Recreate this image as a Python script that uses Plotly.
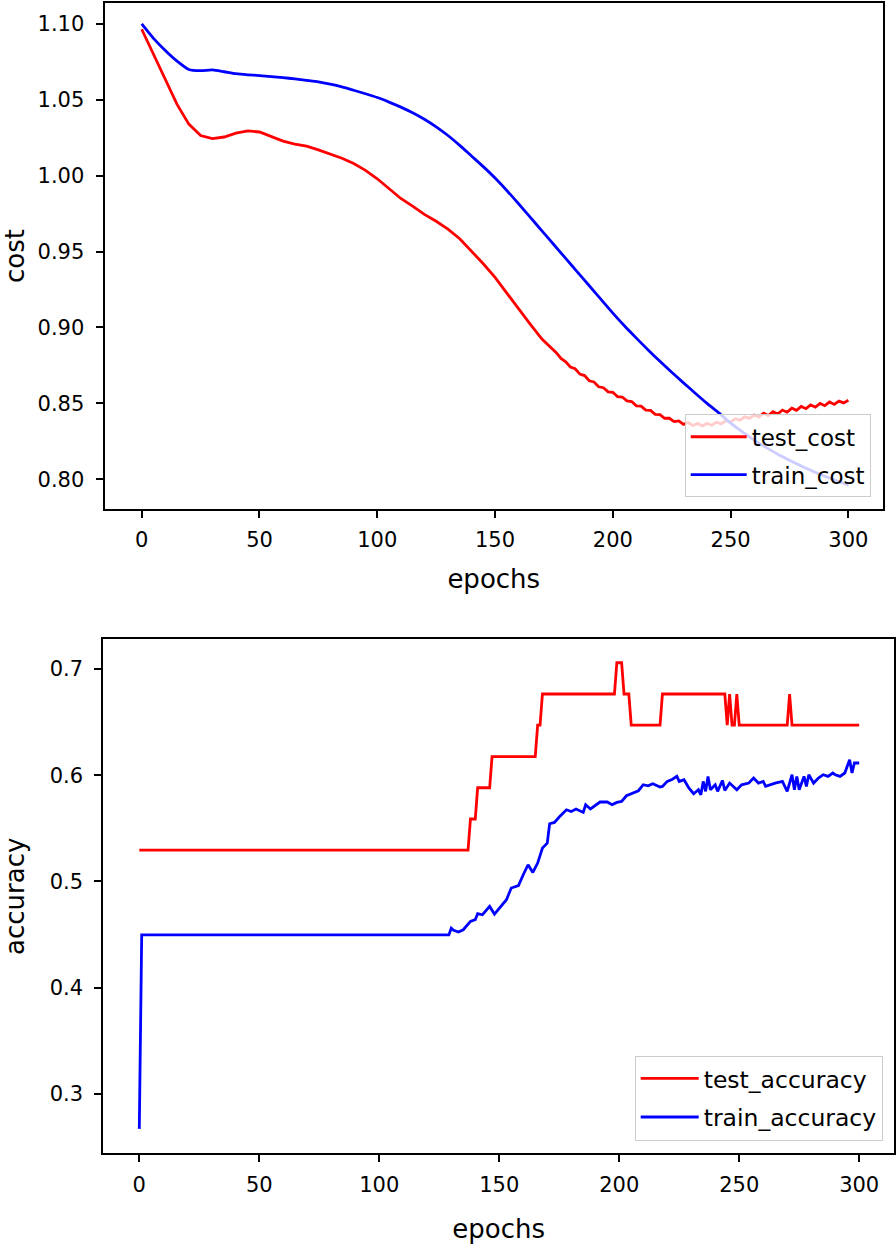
import plotly.graph_objects as go

# ---------------- data: cost ----------------
cost_epochs_a = [0, 5, 10, 15, 20, 25, 30, 35, 40, 45, 50, 55, 60, 65, 70, 75, 80, 85, 90, 95,
                 100, 105, 110, 115, 120, 125, 130, 135, 140, 145, 150, 155, 160, 165, 170]
test_cost_a = [1.0965, 1.0800, 1.0630, 1.0470, 1.0340, 1.0265, 1.0245, 1.0255, 1.0280, 1.0295,
               1.0288, 1.0260, 1.0228, 1.0208, 1.0195, 1.0170, 1.0143, 1.0115, 1.0080, 1.0035,
               0.9980, 0.9915, 0.9850, 0.9800, 0.9745, 0.9700, 0.9648, 0.9585, 0.9505, 0.9420,
               0.9330, 0.9225, 0.9120, 0.9020, 0.8922]
cost_epochs_b = list(range(172, 301, 2))
test_cost_b = [0.8893, 0.8860, 0.8834, 0.8796, 0.8774, 0.8740, 0.8728, 0.8693, 0.8683, 0.8649,
               0.8641, 0.8609, 0.8603, 0.8576, 0.8573, 0.8545, 0.8542, 0.8516, 0.8512, 0.8484,
               0.8482, 0.8456, 0.8454, 0.8428, 0.8426, 0.8402, 0.8402, 0.8380, 0.8384, 0.8362,
               0.8374, 0.8354, 0.8368, 0.8352, 0.8368, 0.8356, 0.8376, 0.8365, 0.8387, 0.8377,
               0.8399, 0.8389, 0.8411, 0.8401, 0.8423, 0.8410, 0.8435, 0.8420, 0.8445, 0.8430,
               0.8456, 0.8442, 0.8468, 0.8454, 0.8480, 0.8465, 0.8490, 0.8475, 0.8500, 0.8485,
               0.8509, 0.8493, 0.8515, 0.8503, 0.8520]

train_cost_epochs = list(range(0, 301, 5))
train_cost = [1.1000, 1.0905, 1.0825, 1.0755, 1.0700, 1.0692, 1.0697, 1.0685, 1.0672, 1.0665,
              1.0660, 1.0653, 1.0646, 1.0638, 1.0628, 1.0618, 1.0603, 1.0585, 1.0563, 1.0540,
              1.0515, 1.0485, 1.0452, 1.0415, 1.0372, 1.0322, 1.0265, 1.0200, 1.0130, 1.0060,
              0.9985, 0.9903, 0.9815, 0.9725, 0.9635, 0.9545, 0.9455, 0.9365, 0.9275, 0.9185,
              0.9095, 0.9010, 0.8930, 0.8852, 0.8777, 0.8705, 0.8635, 0.8567, 0.8500, 0.8437,
              0.8370, 0.8312, 0.8258, 0.8210, 0.8165, 0.8125, 0.8087, 0.8052, 0.8020, 0.7990,
              0.7962]

# ---------------- data: accuracy ----------------
test_acc_epochs = [0, 137, 138, 140, 141, 146, 147, 165, 166, 167, 168, 198, 199, 201, 202, 204,
                   205, 217, 218, 244, 245, 246, 247, 248, 249, 250, 270, 271, 272, 300]
test_acc = [0.5294, 0.5294, 0.5588, 0.5588, 0.5882, 0.5882, 0.6176, 0.6176, 0.6471, 0.6471,
            0.6765, 0.6765, 0.7059, 0.7059, 0.6765, 0.6765, 0.6471, 0.6471, 0.6765, 0.6765,
            0.6471, 0.6765, 0.6471, 0.6471, 0.6765, 0.6471, 0.6471, 0.6765, 0.6471, 0.6471]

train_acc_epochs = [0, 1, 129, 130, 131, 133, 135, 137, 138, 140, 141, 143, 146, 148, 151, 153,
                    155, 158, 160, 162, 164, 166, 168, 170, 171, 173, 175, 178, 180, 182, 185,
                    186, 188, 192, 195, 197, 199, 201, 203, 206, 208, 210, 212, 214, 217, 218,
                    220, 222, 224, 225, 227, 229, 231, 233, 234, 235, 236, 237, 238, 240, 241,
                    243, 244, 246, 249, 251, 254, 256, 258, 260, 261, 265, 268, 270, 272, 273,
                    274, 275, 277, 278, 279, 281, 283, 285, 287, 289, 290, 292, 294, 296, 297,
                    298, 300]
train_acc = [0.2670, 0.4497, 0.4497, 0.4560, 0.4540, 0.4524, 0.4545, 0.4600, 0.4624, 0.4640,
             0.4696, 0.4686, 0.4765, 0.4693, 0.4780, 0.4828, 0.4938, 0.4960, 0.5063, 0.5157,
             0.5085, 0.5173, 0.5314, 0.5360, 0.5543, 0.5556, 0.5606, 0.5675, 0.5659, 0.5682,
             0.5650, 0.5722, 0.5682, 0.5748, 0.5748, 0.5722, 0.5744, 0.5753, 0.5807, 0.5832,
             0.5854, 0.5911, 0.5901, 0.5920, 0.5889, 0.5895, 0.5942, 0.5960, 0.5989, 0.5942,
             0.5958, 0.5880, 0.5826, 0.5863, 0.5816, 0.5942, 0.5848, 0.5989, 0.5863, 0.5910,
             0.5848, 0.5951, 0.5857, 0.5926, 0.5863, 0.5910, 0.5926, 0.5973, 0.5926, 0.5942,
             0.5895, 0.5926, 0.5942, 0.5848, 0.6005, 0.5863, 0.5989, 0.5863, 0.5989, 0.5895,
             0.6005, 0.5926, 0.5973, 0.6005, 0.5989, 0.6021, 0.6005, 0.5989, 0.6021, 0.6146,
             0.6021, 0.6115, 0.6115]

x_ticks = [0, 50, 100, 150, 200, 250, 300]
cost_ticks = [0.80, 0.85, 0.90, 0.95, 1.00, 1.05, 1.10]
acc_ticks = [0.3, 0.4, 0.5, 0.6, 0.7]

RED = "#ff0000"
BLUE = "#0000ff"
FONT = "DejaVu Sans"
W, H = 896, 1246


def px_x(p):
    return min(1.0, max(0.0, p / W))


def px_y(p):
    return min(1.0, max(0.0, 1 - p / H))


fig = go.Figure()
fig.add_trace(go.Scatter(x=cost_epochs_a + cost_epochs_b, y=test_cost_a + test_cost_b,
                         mode="lines", name="test_cost", legendgroup="a",
                         line=dict(color=RED, width=2.8),
                         xaxis="x", yaxis="y", legend="legend"))
fig.add_trace(go.Scatter(x=train_cost_epochs, y=train_cost, mode="lines", name="train_cost",
                         legendgroup="b",
                         line=dict(color=BLUE, width=2.8, shape="spline", smoothing=0.6),
                         xaxis="x", yaxis="y", legend="legend"))
fig.add_trace(go.Scatter(x=test_acc_epochs, y=test_acc, mode="lines", name="test_accuracy",
                         legendgroup="c",
                         line=dict(color=RED, width=2.8), xaxis="x2", yaxis="y2", legend="legend2"))
fig.add_trace(go.Scatter(x=train_acc_epochs, y=train_acc, mode="lines", name="train_accuracy",
                         legendgroup="d",
                         line=dict(color=BLUE, width=2.8), xaxis="x2", yaxis="y2", legend="legend2"))

axis_common = dict(showline=True, linecolor="black", linewidth=2, mirror=True,
                   ticks="outside", ticklen=7, tickwidth=1.5, tickcolor="black",
                   showgrid=False, zeroline=False, automargin=False,
                   tickfont=dict(family=FONT, size=21, color="black"))
title_font = dict(family=FONT, size=26, color="black")
legend_common = dict(xanchor="right", yanchor="bottom", bgcolor="rgba(255,255,255,0.8)",
                     bordercolor="#cccccc", borderwidth=1,
                     tracegroupgap=5, traceorder="grouped")

fig.update_layout(
    width=W, height=H,
    margin=dict(l=0, r=0, t=0, b=0),
    paper_bgcolor="white", plot_bgcolor="white",
    font=dict(family=FONT, color="black"),
    xaxis=dict(axis_common, domain=[px_x(104.5), px_x(883)], range=[-15.8, 314.7],
               tickvals=x_ticks, anchor="y", ticklabelstandoff=4,
               title=dict(text="epochs", font=title_font, standoff=19)),
    yaxis=dict(axis_common, domain=[px_y(509), px_y(3)], range=[0.7804, 1.1138],
               tickvals=cost_ticks, ticktext=[f"{v:.2f}" for v in cost_ticks], anchor="x",
               ticklabelstandoff=7,
               title=dict(text="cost", font=title_font, standoff=19)),
    xaxis2=dict(axis_common, domain=[px_x(103.3), px_x(894)], range=[-15, 314.5],
                tickvals=x_ticks, anchor="y2", ticklabelstandoff=4,
                title=dict(text="epochs", font=title_font, standoff=24)),
    yaxis2=dict(axis_common, domain=[px_y(1153.3), px_y(639.3)], range=[0.244, 0.728],
                tickvals=acc_ticks, ticktext=[f"{v:.1f}" for v in acc_ticks], anchor="x2",
                ticklabelstandoff=7,
                title=dict(text="accuracy", font=title_font, standoff=30)),
    legend=dict(legend_common, x=px_x(870.7), y=px_y(497.3), itemwidth=56,
                font=dict(family=FONT, size=23, color="black")),
    legend2=dict(legend_common, x=px_x(882.7), y=px_y(1140.7), itemwidth=58,
                 font=dict(family=FONT, size=23.5, color="black")),
    showlegend=True,
)

fig.write_html("out.html", config={"displayModeBar": False},
               post_script="document.body.style.margin='0px';")
